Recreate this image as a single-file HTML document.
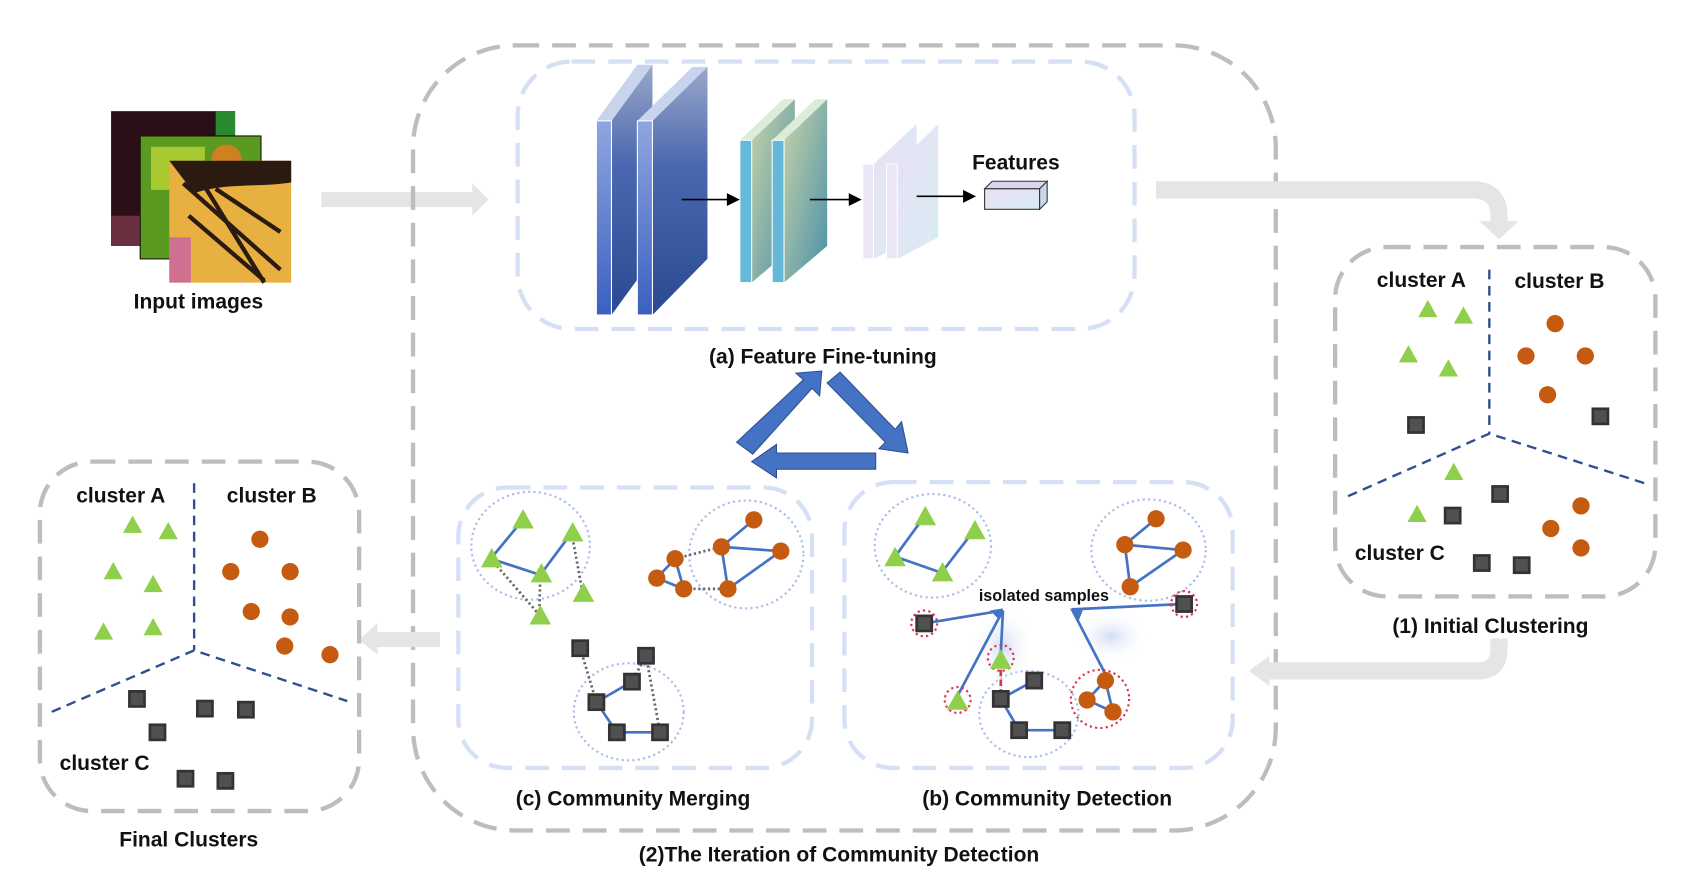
<!DOCTYPE html>
<html><head><meta charset="utf-8"><style>
html,body{margin:0;padding:0;background:#fff;}
svg{display:block;}
text{font-family:"Liberation Sans",Arial,sans-serif;font-weight:bold;fill:#111;}
</style></head><body>
<svg width="1691" height="878" viewBox="0 0 1568 814" xmlns="http://www.w3.org/2000/svg">
<defs>
<symbol id="tri" viewBox="0 0 20 18" overflow="visible"><polygon points="10,0 20,18 0,18" fill="#8fcf4c"/></symbol>
<linearGradient id="gb" x1="0" y1="0" x2="0" y2="1"><stop offset="0" stop-color="#9aa8c8"/><stop offset="0.4" stop-color="#4a68b0"/><stop offset="1" stop-color="#2a4a90"/></linearGradient>
<linearGradient id="gf" x1="0" y1="0" x2="0" y2="1"><stop offset="0" stop-color="#8fa6e0"/><stop offset="1" stop-color="#3a60c0"/></linearGradient>
<linearGradient id="gt" x1="0" y1="0" x2="1" y2="1"><stop offset="0" stop-color="#c8d4a8"/><stop offset="1" stop-color="#4a90a8"/></linearGradient>
<linearGradient id="gp" x1="0" y1="0" x2="1" y2="1"><stop offset="0" stop-color="#e8e0f4"/><stop offset="1" stop-color="#d8ecf4"/></linearGradient>
<radialGradient id="glow"><stop offset="0" stop-color="#c8d4f0" stop-opacity="0.8"/><stop offset="1" stop-color="#fff" stop-opacity="0"/></radialGradient>
</defs>
<style>
.sq{fill:#505050;stroke:#333;stroke-width:2.5}
.ci{fill:#c55a11}
.bl{stroke:#4472c4;stroke-width:2.5;fill:none}
.dt{stroke:#666;stroke-width:2.5;stroke-dasharray:2 2.5;fill:none}
.cc{stroke:#a8bde8;stroke-width:2;stroke-dasharray:2 3;fill:none}
.rc{stroke:#e03050;stroke-width:2;stroke-dasharray:2 3;fill:none}
.gb{fill:none;stroke:#bdbdbd;stroke-width:4;stroke-dasharray:22 12}
.lb{fill:none;stroke:#d6e0f5;stroke-width:4;stroke-dasharray:22 12}
.sep{stroke:#2f4f8f;stroke-width:2.2;stroke-dasharray:9 6;fill:none}
</style>

<!-- input images -->
<rect x="103" y="103" width="115" height="125" fill="#2a1016"/>
<rect x="103" y="200" width="115" height="28" fill="#6a3040"/>
<rect x="200" y="103" width="18" height="30" fill="#2a8a30"/>
<rect x="130" y="126" width="112" height="114" fill="#5a9a20" stroke="#111"/>
<rect x="140" y="136" width="50" height="40" fill="#a8c830"/>
<circle cx="210" cy="148" r="14" fill="#d08020"/>
<rect x="157" y="149" width="113" height="113" fill="#e8b040"/>
<path d="M157 149h113v20c-30 5-60 0-90 10z" fill="#2a1a10"/>
<path d="M170 170l90 80M185 165l60 97M175 200l70 60M200 175l60 40" stroke="#2a1a10" stroke-width="4"/>
<rect x="157" y="220" width="20" height="42" fill="#d07090"/>
<text x="184" y="286" font-size="19.5" text-anchor="middle">Input images</text>

<!-- arrow input -> -->
<polygon points="298,178 438,178 438,170 453,185 438,200 438,192 298,192" fill="#e5e5e5"/>

<!-- outer box -->
<rect x="383" y="42" width="800" height="728" rx="95" class="gb"/>
<!-- (a) box -->
<rect x="480" y="57" width="572" height="248" rx="50" class="lb"/>

<!-- CNN -->
<polygon points="567,112 605,60 605,240 567,292" fill="url(#gb)"/>
<polygon points="553,112 567,112 605,60 591,60" fill="#c8d4ee"/>
<rect x="553" y="112" width="14" height="180" fill="url(#gf)" stroke="#fff"/>
<polygon points="605,112 656,62 656,240 605,292" fill="url(#gb)"/>
<polygon points="591,112 605,112 656,62 642,62" fill="#c8d4ee"/>
<rect x="591" y="112" width="14" height="180" fill="url(#gf)" stroke="#fff"/>
<polygon points="697,130 737,92 737,228 697,262" fill="url(#gt)"/>
<polygon points="686,130 697,130 737,92 726,92" fill="#dcecd8"/>
<rect x="686" y="130" width="11" height="132" fill="#66b8d8" stroke="#fff"/>
<polygon points="727,130 767,92 767,228 727,262" fill="url(#gt)"/>
<polygon points="716,130 727,130 767,92 756,92" fill="#dcecd8"/>
<rect x="716" y="130" width="11" height="132" fill="#66b8d8" stroke="#fff"/>
<polygon points="810,152 850,115 850,220 810,240" fill="url(#gp)"/>
<rect x="800" y="152" width="10" height="88" fill="#ebe6f6" stroke="#fff"/>
<polygon points="832,152 870,115 870,220 832,240" fill="url(#gp)"/>
<rect x="822" y="152" width="10" height="88" fill="#ebe6f6" stroke="#fff"/>
<g stroke="#000" stroke-width="1.5"><line x1="632" y1="185" x2="676" y2="185"/><line x1="751" y1="185" x2="789" y2="185"/><line x1="850" y1="182" x2="894" y2="182"/></g>
<polygon points="686,185 674,179 674,191"/><polygon points="799,185 787,179 787,191"/><polygon points="905,182 893,176 893,188"/>
<polygon points="913,175 920,168 971,168 964,175" fill="#dcd4f0" stroke="#333"/>
<rect x="913" y="175" width="51" height="19" fill="url(#gp)" stroke="#333"/>
<polygon points="964,175 971,168 971,187 964,194" fill="#c8d8e8" stroke="#333"/>
<text x="942" y="157" font-size="19.5" text-anchor="middle">Features</text>
<text x="763" y="337" font-size="19.5" text-anchor="middle">(a) Feature Fine-tuning</text>

<!-- triangle arrows -->
<polygon points="683,410 745,352 738,346 762,344 760,367 753,360 698,421" fill="#4472c4" stroke="#2f528f"/>
<polygon points="767,355 779,345 830,398 836,391 842,420 815,416 821,410" fill="#4472c4" stroke="#2f528f"/>
<polygon points="812,420 720,420 720,412 697,428 720,443 720,435 812,435" fill="#4472c4" stroke="#2f528f"/>

<!-- (c) box -->
<rect x="425" y="452" width="328" height="260" rx="45" class="lb"/>
<!-- (b) box -->
<rect x="783" y="447" width="360" height="265" rx="45" class="lb"/>
<text x="587" y="747" font-size="19.5" text-anchor="middle">(c) Community Merging</text>
<text x="971" y="747" font-size="19.5" text-anchor="middle">(b) Community Detection</text>
<text x="778" y="799" font-size="19.5" text-anchor="middle">(2)The Iteration of  Community Detection</text>

<!-- (c) content -->
<ellipse cx="492" cy="506" rx="55" ry="50" class="cc"/>
<ellipse cx="692" cy="514" rx="53" ry="50" class="cc"/>
<ellipse cx="583" cy="660" rx="51" ry="45" class="cc"/>
<path d="M484 483 L455 518 L501 533 L530 494" class="bl"/>
<path d="M455 518 L500 570 M501 533 L500 570 M530 494 L540 548" class="dt"/>
<use href="#tri" x="475" y="472" width="20" height="18"/>
<use href="#tri" x="521" y="484" width="20" height="18"/>
<use href="#tri" x="446" y="508" width="20" height="18"/>
<use href="#tri" x="492" y="522" width="20" height="18"/>
<use href="#tri" x="531" y="540" width="20" height="18"/>
<use href="#tri" x="491" y="561" width="20" height="18"/>
<path d="M699 482 L669 507 L724 511 L675 546 L669 507 M626 518 L634 546" class="bl"/>
<path d="M609 536 L626 518" class="bl"/>
<path d="M609 536 L634 546" class="bl"/>
<path d="M626 518 L669 507 M634 546 L675 546" class="dt"/>
<g class="ci"><circle cx="699" cy="482" r="8"/><circle cx="669" cy="507" r="8"/><circle cx="724" cy="511" r="8"/><circle cx="675" cy="546" r="8"/><circle cx="626" cy="518" r="8"/><circle cx="609" cy="536" r="8"/><circle cx="634" cy="546" r="8"/></g>
<path d="M586 632 L553 651 L572 679 L612 679" class="bl"/>
<path d="M538 601 L553 651 M599 608 L586 632 M599 608 L612 679" class="dt"/>
<g class="sq"><rect x="531" y="594" width="14" height="14"/><rect x="592" y="601" width="14" height="14"/><rect x="579" y="625" width="14" height="14"/><rect x="546" y="644" width="14" height="14"/><rect x="565" y="672" width="14" height="14"/><rect x="605" y="672" width="14" height="14"/></g>

<!-- (b) content -->
<ellipse cx="865" cy="506" rx="54" ry="48" class="cc"/>
<ellipse cx="1065" cy="510" rx="53" ry="47" class="cc"/>
<ellipse cx="954" cy="662" rx="46" ry="40" class="cc"/>
<ellipse cx="930" cy="600" rx="30" ry="40" fill="url(#glow)"/>
<ellipse cx="1030" cy="590" rx="35" ry="25" fill="url(#glow)"/>
<path d="M857 479 L830 516 L873 531 M903 492 L873 531" class="bl"/>
<use href="#tri" x="848" y="469" width="20" height="18"/>
<use href="#tri" x="894" y="482" width="20" height="18"/>
<use href="#tri" x="820" y="507" width="20" height="18"/>
<use href="#tri" x="864" y="521" width="20" height="18"/>
<path d="M1072 481 L1043 505 L1097 510 L1048 544 L1043 505" class="bl"/>
<g class="ci"><circle cx="1072" cy="481" r="8"/><circle cx="1043" cy="505" r="8"/><circle cx="1097" cy="510" r="8"/><circle cx="1048" cy="544" r="8"/></g>
<text x="968" y="557" font-size="15" text-anchor="middle">isolated samples</text>
<path d="M857 578 L930 566 M888 645 L930 566 M928 606 L930 566 M1097 560 L994 565 M1025 625 L994 565" class="bl"/>
<polygon points="930,564 918,566 926,574" fill="#4472c4"/>
<polygon points="992,564 1000,576 1004,566" fill="#4472c4"/>
<path d="M928 612 L928 640" stroke="#e03050" stroke-width="2.5" stroke-dasharray="6 3"/>
<path d="M959 631 L928 648 L945 677 L985 677" class="bl"/>
<path d="M1025 631 L1008 649 L1032 660 L1025 631" class="bl"/>
<circle cx="857" cy="578" r="12" class="rc"/>
<circle cx="1098" cy="560" r="12" class="rc"/>
<circle cx="928" cy="610" r="12" class="rc"/>
<circle cx="888" cy="649" r="12" class="rc"/>
<circle cx="1020" cy="648" r="27" class="rc"/>
<use href="#tri" x="918" y="602" width="20" height="18"/>
<use href="#tri" x="878" y="640" width="20" height="18"/>
<g class="ci"><circle cx="1025" cy="631" r="8"/><circle cx="1008" cy="649" r="8"/><circle cx="1032" cy="660" r="8"/></g>
<g class="sq"><rect x="850" y="571" width="14" height="14"/><rect x="1091" y="553" width="14" height="14"/><rect x="952" y="624" width="14" height="14"/><rect x="921" y="641" width="14" height="14"/><rect x="938" y="670" width="14" height="14"/><rect x="978" y="670" width="14" height="14"/></g>

<!-- right gray arrow -->
<path d="M1072 176 L1365 176 Q1390 176 1390 200 L1390 207" fill="none" stroke="#e5e5e5" stroke-width="16"/>
<polygon points="1372,205 1408,205 1390,222" fill="#e5e5e5"/>

<!-- Initial clustering -->
<rect x="1238" y="229" width="297" height="324" rx="48" class="gb"/>
<path d="M1381 250 L1381 402" class="sep"/>
<path d="M1250 460 L1381 402 L1525 448" class="sep"/>
<text x="1318" y="266" font-size="19.5" text-anchor="middle">cluster A</text>
<text x="1446" y="267" font-size="19.5" text-anchor="middle">cluster B</text>
<text x="1298" y="519" font-size="19.5" text-anchor="middle">cluster C</text>
<text x="1382" y="587" font-size="19.5" text-anchor="middle">(1) Initial Clustering</text>
<use href="#tri" x="1315" y="278" width="18" height="16"/>
<use href="#tri" x="1348" y="284" width="18" height="16"/>
<use href="#tri" x="1297" y="320" width="18" height="16"/>
<use href="#tri" x="1334" y="333" width="18" height="16"/>
<use href="#tri" x="1339" y="429" width="18" height="16"/>
<use href="#tri" x="1305" y="468" width="18" height="16"/>
<g class="ci"><circle cx="1442" cy="300" r="8"/><circle cx="1415" cy="330" r="8"/><circle cx="1470" cy="330" r="8"/><circle cx="1435" cy="366" r="8"/><circle cx="1466" cy="469" r="8"/><circle cx="1438" cy="490" r="8"/><circle cx="1466" cy="508" r="8"/></g>
<g class="sq"><rect x="1306" y="387" width="14" height="14"/><rect x="1477" y="379" width="14" height="14"/><rect x="1384" y="451" width="14" height="14"/><rect x="1340" y="471" width="14" height="14"/><rect x="1367" y="515" width="14" height="14"/><rect x="1404" y="517" width="14" height="14"/></g>

<!-- gray arrow from initial back -->
<path d="M1390 592 L1390 602 Q1390 622 1370 622 L1175 622" fill="none" stroke="#e5e5e5" stroke-width="16"/>
<polygon points="1177,608 1177,636 1158,622" fill="#e5e5e5"/>

<!-- gray arrow to final -->
<polygon points="408,586 350,586 350,578 333,593 350,607 350,600 408,600" fill="#e5e5e5"/>

<!-- Final clusters -->
<rect x="37" y="428" width="296" height="324" rx="48" class="gb"/>
<path d="M180 448 L180 603" class="sep"/>
<path d="M48 660 L180 603 L322 650" class="sep"/>
<text x="112" y="466" font-size="19.5" text-anchor="middle">cluster A</text>
<text x="252" y="466" font-size="19.5" text-anchor="middle">cluster B</text>
<text x="97" y="714" font-size="19.5" text-anchor="middle">cluster C</text>
<text x="175" y="785" font-size="19.5" text-anchor="middle">Final Clusters</text>
<use href="#tri" x="114" y="478" width="18" height="16"/>
<use href="#tri" x="147" y="484" width="18" height="16"/>
<use href="#tri" x="96" y="521" width="18" height="16"/>
<use href="#tri" x="133" y="533" width="18" height="16"/>
<use href="#tri" x="87" y="577" width="18" height="16"/>
<use href="#tri" x="133" y="573" width="18" height="16"/>
<g class="ci"><circle cx="241" cy="500" r="8"/><circle cx="214" cy="530" r="8"/><circle cx="269" cy="530" r="8"/><circle cx="233" cy="567" r="8"/><circle cx="269" cy="572" r="8"/><circle cx="264" cy="599" r="8"/><circle cx="306" cy="607" r="8"/></g>
<g class="sq"><rect x="120" y="641" width="14" height="14"/><rect x="183" y="650" width="14" height="14"/><rect x="221" y="651" width="14" height="14"/><rect x="139" y="672" width="14" height="14"/><rect x="165" y="715" width="14" height="14"/><rect x="202" y="717" width="14" height="14"/></g>
</svg>
</body></html>
